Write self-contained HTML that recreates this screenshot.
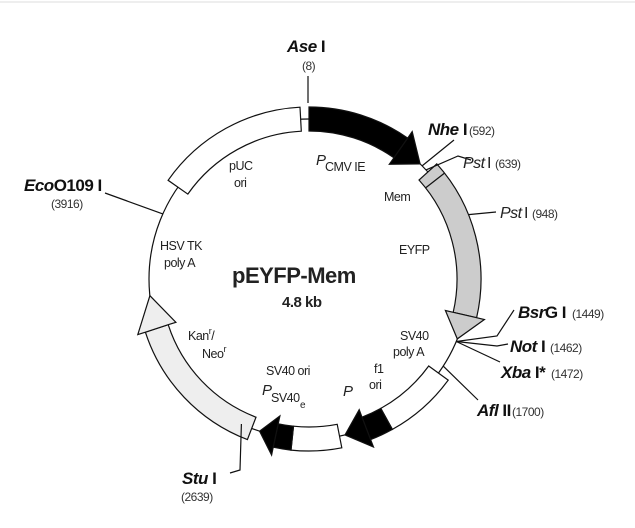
<!DOCTYPE html>
<html><head><meta charset="utf-8"><style>
html,body{margin:0;padding:0;background:#fff;width:635px;height:528px;overflow:hidden}
svg{display:block}
text{font-family:"Liberation Sans Narrow","Liberation Sans",sans-serif;fill:#222;letter-spacing:-0.5px}
.b{font-weight:bold;font-size:17px;fill:#111}
.n{font-size:12px;fill:#333}
.l{font-size:12.5px;fill:#222}
</style></head><body>
<svg id="s" width="635" height="528" viewBox="0 0 635 528" xmlns="http://www.w3.org/2000/svg">
<line x1="0" y1="2" x2="635" y2="2" stroke="#ddd" stroke-width="1"/>
<g id="g" stroke="#111" stroke-width="1.2" stroke-linejoin="miter"></g>
<text x="287" y="52" class="b"><tspan font-style="italic">Ase</tspan> I</text>
<text x="302" y="70" class="n">(8)</text>
<text x="428" y="135" class="b"><tspan font-style="italic">Nhe</tspan> I</text><text x="469" y="135" class="n">(592)</text>
<text x="463" y="168" font-size="16" font-style="italic" fill="#333">Pst</text><text x="487" y="168" font-size="16" fill="#333">I</text><text x="495" y="168" class="n">(639)</text>
<text x="500" y="218" font-size="16" font-style="italic" fill="#333">Pst</text><text x="524" y="218" font-size="16" fill="#333">I</text><text x="532" y="218" class="n">(948)</text>
<text x="518" y="318" class="b"><tspan font-style="italic">Bsr</tspan>G I</text><text x="572" y="318" class="n">(1449)</text>
<text x="510" y="352" class="b"><tspan font-style="italic">Not</tspan> I</text><text x="550" y="352" class="n">(1462)</text>
<text x="501" y="378" class="b"><tspan font-style="italic">Xba</tspan> I*</text><text x="551" y="378" class="n">(1472)</text>
<text x="477" y="416" class="b"><tspan font-style="italic">Afl</tspan> II</text><text x="512" y="416" class="n">(1700)</text>
<text x="182" y="484" class="b"><tspan font-style="italic">Stu</tspan> I</text>
<text x="181" y="501" class="n">(2639)</text>
<text x="24" y="191" class="b"><tspan font-style="italic">Eco</tspan>O109 I</text>
<text x="51" y="208" class="n">(3916)</text>
<text x="316" y="165" font-size="15" font-style="italic">P</text><text x="325" y="171" class="l">CMV  IE</text>
<text x="229" y="170" class="l">pUC</text><text x="234" y="187" class="l">ori</text>
<text x="384" y="201" class="l">Mem</text>
<text x="399" y="254" class="l">EYFP</text>
<text x="160" y="250" class="l">HSV TK</text><text x="164" y="267" class="l">poly A</text>
<text x="232" y="283" font-size="22" font-weight="bold" fill="#111">pEYFP-Mem</text>
<text x="282" y="307" font-size="15" font-weight="bold" fill="#111">4.8 kb</text>
<text x="188" y="340" class="l">Kan<tspan font-size="9" dy="-6">r</tspan><tspan dy="6">/</tspan></text>
<text x="202" y="358" class="l">Neo<tspan font-size="9" dy="-6">r</tspan></text>
<text x="400" y="340" class="l">SV40</text><text x="393" y="356" class="l">poly A</text>
<text x="374" y="373" class="l">f1</text><text x="369" y="389" class="l">ori</text>
<text x="343" y="396" font-size="15" font-style="italic">P</text>
<text x="266" y="375" class="l">SV40 ori</text>
<text x="262" y="395" font-size="15" font-style="italic">P</text><text x="271" y="402" class="l">SV40</text><text x="300" y="408" font-size="10">e</text>
</svg>
<script>
var cx=309,cy=279,R=160,W=12,g=document.getElementById('g'),NS='http://www.w3.org/2000/svg';
function P(a,r){a=a*Math.PI/180;return [(cx+r*Math.sin(a)).toFixed(1),(cy-r*Math.cos(a)).toFixed(1)];}
function arc(a1,a2,r){var p=P(a2,r),sw=a2>a1?1:0,l=Math.abs(a2-a1)>180?1:0;return 'A'+r+' '+r+' 0 '+l+' '+sw+' '+p[0]+' '+p[1];}
function add(tag,at){var e=document.createElementNS(NS,tag);for(var k in at)e.setAttribute(k,at[k]);g.appendChild(e);return e;}
function band(a1,a2,fill){var s=P(a1,R+W),i=P(a2,R-W);add('path',{d:'M'+s.join(' ')+arc(a1,a2,R+W)+'L'+i.join(' ')+arc(a2,a1,R-W)+'Z',fill:fill});}
function head(a1,a2,fill){var a=P(a1,R+W+8),b=P(a2,R),c=P(a1,R-W-8),d=P(a1,R-W),e=P(a1,R+W);add('path',{d:'M'+e.join(' ')+'L'+a.join(' ')+'L'+b.join(' ')+'L'+c.join(' ')+'L'+d.join(' ')+'Z',fill:fill});}
function line(pts){add('polyline',{points:pts.map(function(p){return p.join(',')}).join(' '),fill:'none'});}
add('circle',{cx:cx,cy:cy,r:R,fill:'none'});
band(-55,-3,'#fff');
band(0,35,'#000');head(35,44,'#000');
band(48,103,'#ccc');head(103,112,'#ccc');line([P(52,R-W),P(52,R+W)]);
band(126,151,'#fff');band(151,159,'#000');head(159,167,'#000');
band(169,186,'#fff');band(186,192,'#000');head(192,198,'#000');
band(201,252,'#eee');head(252,264,'#eee');
line([[308,103],[308,76]]);
line([P(45,R),[454,140]]);
line([P(47,R),[458,156],[471,160]]);
line([P(68,R+W),[496,212]]);
line([P(113,R),[497,336],[514,310]]);
line([P(113,R),[497,346],[508,344]]);
line([P(113,R),[500,362]]);
line([P(123,R),[478,400]]);
line([P(205,R),[240,470],[230,473]]);
line([P(294,R),[105,193]]);
</script>
</body></html>
